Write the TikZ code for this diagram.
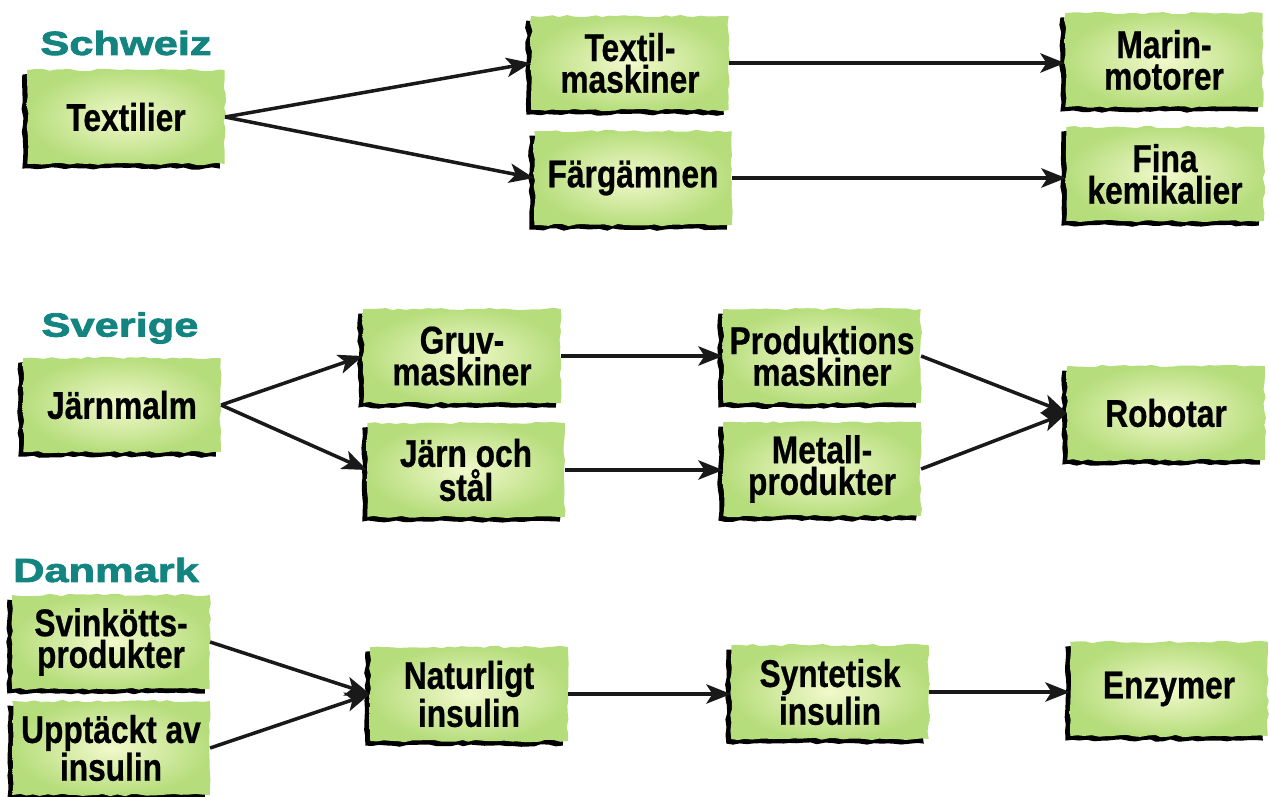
\documentclass[tikz,border=0pt]{standalone}
\usepackage{fontspec}
\usetikzlibrary{arrows.meta, shadows, decorations.pathmorphing}
\newfontfamily\boxfont{Liberation Sans}[FakeStretch=0.82, FakeBold=0.6]
\newfontfamily\landfont{Liberation Sans}[FakeStretch=1.3, FakeBold=2.5]
\definecolor{landteal}{RGB}{20,132,128}
\definecolor{boxlight}{RGB}{242,249,204}
\definecolor{boxdark}{RGB}{182,221,124}
\tikzstyle{stage} = [rectangle, minimum width=3.95cm, minimum height=1.88cm, inner sep=0pt, align=center, text centered, font=\boxfont\bfseries\fontsize{22}{18}\selectfont, shading=radial, inner color=boxlight, outer color=boxdark, decorate, decoration={random steps, segment length=4pt, amplitude=0.7pt}, drop shadow={shadow xshift=-2.8pt, shadow yshift=-2.6pt, fill=black, opacity=1}]
\tikzstyle{country} = [inner sep=0pt, text=landteal, font=\landfont\bfseries\fontsize{19}{22}\selectfont]
\tikzstyle{arrow} = [line width=2pt, ->, >={Stealth[length=14pt, width=11pt, inset=3.5pt]}, black!90]

\begin{document}
\begin{tikzpicture}[x=0.02cm, y=-0.02cm]
    \useasboundingbox (0,0) rectangle (1270,796);
    \pgfmathsetseed{7}

    % Schweiz
    \node [country] at (126,43) (schweiz) {Schweiz};
    \node [stage] at (126,117) (textilier) {Textilier};
    \node [stage] at (630,63) (textilmask) {Textil-\\maskiner};
    \node [stage] at (633,178) (fargamnen) {Färgämnen};
    \node [stage] at (1164,60) (marin) {Marin-\\motorer};
    \node [stage] at (1165,174) (fina) {Fina\\kemikalier};

    % Sverige
    \node [country] at (120,328) (sverige) {Sverige};
    \node [stage] at (122,405) (jarnmalm) {Järnmalm};
    \node [stage] at (462,356) (gruv) {Gruv-\\maskiner};
    \node [stage] at (466,470) (jarnstal) {Järn och\\stål};
    \node [stage] at (822,356) (prodmask) {Produktions\\maskiner};
    \node [stage] at (822,469) (metall) {Metall-\\produkter};
    \node [stage] at (1166,413) (robotar) {Robotar};

    % Danmark
    \node [country] at (106,570) (danmark) {Danmark};
    \node [stage] at (111,642) (svink) {Svinkötts-\\produkter};
    \node [stage] at (111,748) (upptackt) {Upptäckt av\\insulin};
    \node [stage] at (469,694) (naturligt) {Naturligt\\insulin};
    \node [stage] at (830,692) (syntetisk) {Syntetisk\\insulin};
    \node [stage] at (1169,689) (enzymer) {Enzymer};

    \draw [arrow] (textilier.east) -- (textilmask.west);
    \draw [arrow] (textilier.east) -- (fargamnen.west);
    \draw [arrow] (textilmask.east) -- (textilmask.east -| marin.west);
    \draw [arrow] (fargamnen.east) -- (fargamnen.east -| fina.west);

    \draw [arrow] (jarnmalm.east) -- (gruv.west);
    \draw [arrow] (jarnmalm.east) -- (jarnstal.west);
    \draw [arrow] (gruv.east) -- (gruv.east -| prodmask.west);
    \draw [arrow] (jarnstal.east) -- (jarnstal.east -| metall.west);
    \draw [arrow] (prodmask.east) -- (robotar.west);
    \draw [arrow] (metall.east) -- (robotar.west);

    \draw [arrow] (svink.east) -- (naturligt.west);
    \draw [arrow] (upptackt.east) -- (naturligt.west);
    \draw [arrow] (naturligt.east) -- (naturligt.east -| syntetisk.west);
    \draw [arrow] (syntetisk.east) -- (syntetisk.east -| enzymer.west);
\end{tikzpicture}
\end{document}
